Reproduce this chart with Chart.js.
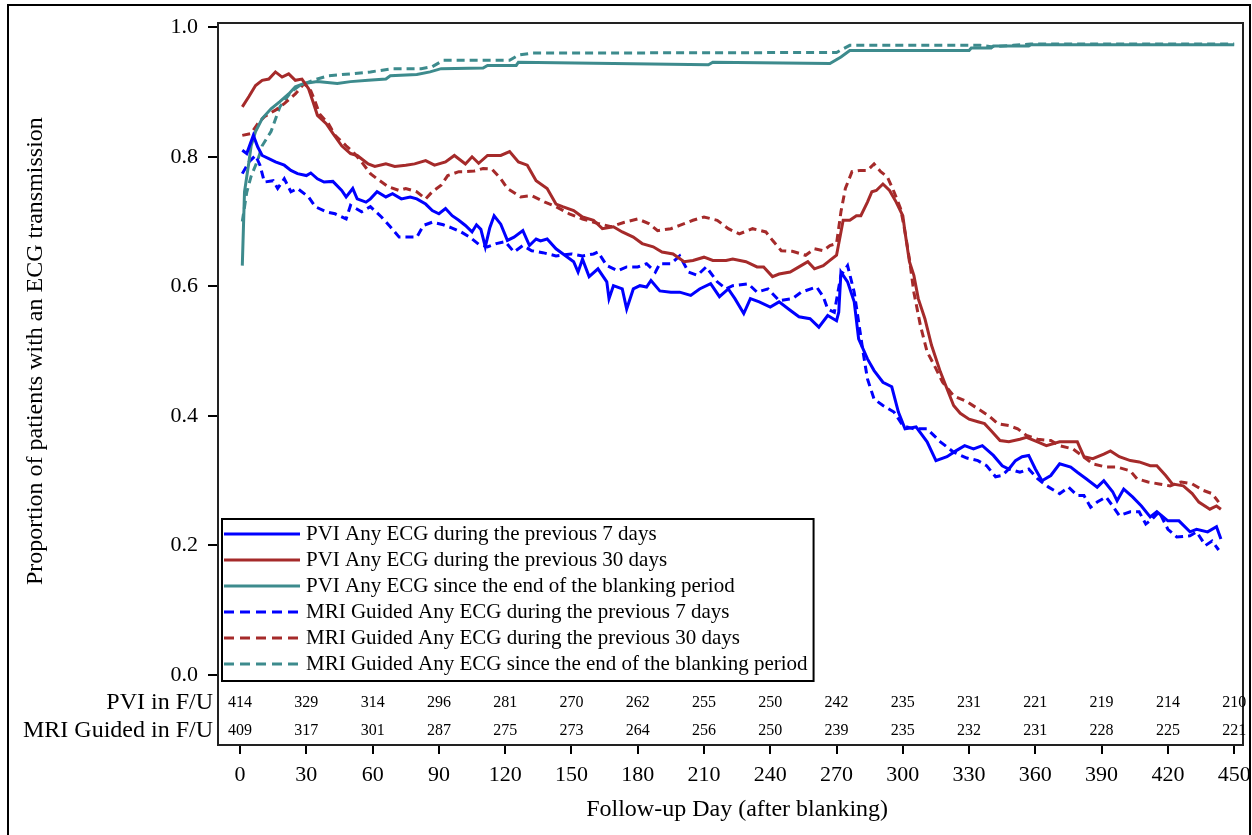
<!DOCTYPE html>
<html>
<head>
<meta charset="utf-8">
<title>ECG transmission during follow-up</title>
<script src="https://cdn.jsdelivr.net/npm/chart.js@4.4.1/dist/chart.umd.min.js"></script>
<style>
  html, body { margin: 0; padding: 0; background: #fff; }
  #wrap { position: relative; width: 1252px; height: 835px; }
</style>
</head>
<body>
<div id="wrap"><canvas id="ecgChart" width="1252" height="835"></canvas></div>
<script>
// ── axis ticks and numbers in follow-up ──
const xTicks = [0, 30, 60, 90, 120, 150, 180, 210, 240, 270, 300, 330, 360, 390, 420, 450];
const yTicks = [0, 0.2, 0.4, 0.6, 0.8, 1.0];
const pviAtRisk = [414, 329, 314, 296, 281, 270, 262, 255, 250, 242, 235, 231, 221, 219, 214, 210];
const mriAtRisk = [409, 317, 301, 287, 275, 273, 264, 256, 250, 239, 235, 232, 231, 228, 225, 221];

// ── PVI: any ECG during the previous 7 days ──
const pvi7Days = [1, 3, 6, 8, 10, 13, 16, 20, 23, 26, 30, 32, 35, 38, 42, 46, 48, 51, 53, 57, 59, 62, 66, 69, 73, 77, 80, 84, 87, 90,
  93, 96, 99, 102, 105, 107, 109, 111, 113, 115, 118, 121, 124, 128, 131, 134, 136, 139, 143, 147, 151, 153, 155, 158, 162, 166, 167, 169,
  173, 175, 178, 181, 184, 186, 190, 195, 199, 204, 208, 213, 217, 221, 224, 228, 231, 235, 240, 244, 249, 253, 258, 262, 266, 270, 271,
  272, 275, 278, 280, 284, 287, 291, 295, 298, 301, 306, 311, 315, 320, 324, 328, 332, 336, 341, 345, 348, 351, 354, 357, 360, 363, 367,
  371, 376, 379, 383, 388, 391, 395, 397, 400, 404, 408, 412, 415, 420, 425, 430, 433, 438, 442, 444];
const pvi7 = [0.810, 0.805, 0.833, 0.815, 0.802, 0.797, 0.792, 0.787, 0.779, 0.774, 0.771, 0.775, 0.766, 0.761, 0.762, 0.748, 0.738, 0.751,
  0.735, 0.730, 0.735, 0.746, 0.738, 0.743, 0.735, 0.738, 0.735, 0.727, 0.717, 0.712, 0.720, 0.709, 0.702, 0.694, 0.684, 0.695, 0.688,
  0.661, 0.690, 0.709, 0.696, 0.671, 0.676, 0.686, 0.663, 0.673, 0.670, 0.673, 0.658, 0.648, 0.638, 0.622, 0.642, 0.615, 0.627, 0.607,
  0.581, 0.601, 0.596, 0.565, 0.596, 0.601, 0.599, 0.609, 0.593, 0.591, 0.591, 0.586, 0.596, 0.604, 0.584, 0.596, 0.581, 0.558, 0.581,
  0.576, 0.568, 0.576, 0.563, 0.553, 0.550, 0.537, 0.555, 0.547, 0.560, 0.622, 0.607, 0.576, 0.519, 0.488, 0.470, 0.452, 0.445, 0.406,
  0.380, 0.383, 0.360, 0.331, 0.337, 0.346, 0.354, 0.349, 0.354, 0.339, 0.323, 0.318, 0.331, 0.337, 0.339, 0.318, 0.300, 0.308, 0.326,
  0.321, 0.313, 0.303, 0.290, 0.300, 0.283, 0.269, 0.287, 0.275, 0.261, 0.244, 0.252, 0.238, 0.238, 0.221, 0.225, 0.221, 0.229, 0.210];

// ── PVI: any ECG during the previous 30 days ──
const pvi30Days = [1, 4, 7, 10, 13, 16, 19, 22, 25, 28, 31, 33, 35, 39, 42, 46, 50, 53, 58, 61, 66, 70, 75, 79, 84, 88, 93, 97, 102, 105,
  108, 112, 118, 122, 126, 130, 134, 139, 143, 146, 151, 155, 160, 164, 169, 173, 178, 182, 187, 191, 196, 201, 205, 210, 214, 220, 223,
  229, 234, 237, 241, 244, 249, 253, 257, 260, 264, 267, 270, 272, 273, 276, 279, 281, 284, 286, 288, 291, 294, 297, 300, 301, 303, 305,
  307, 310, 313, 317, 320, 323, 326, 330, 334, 337, 340, 344, 348, 353, 356, 361, 365, 371, 379, 382, 386, 391, 394, 398, 403, 407, 412,
  415, 419, 422, 427, 431, 434, 439, 442, 444];
const pvi30 = [0.877, 0.893, 0.910, 0.918, 0.920, 0.931, 0.923, 0.928, 0.918, 0.920, 0.905, 0.885, 0.864, 0.851, 0.836, 0.817, 0.805,
  0.802, 0.789, 0.785, 0.789, 0.785, 0.787, 0.789, 0.794, 0.787, 0.792, 0.802, 0.789, 0.800, 0.790, 0.802, 0.802, 0.808, 0.792, 0.787,
  0.763, 0.751, 0.727, 0.723, 0.717, 0.707, 0.702, 0.689, 0.692, 0.684, 0.676, 0.666, 0.661, 0.653, 0.650, 0.638, 0.640, 0.645, 0.640,
  0.640, 0.642, 0.638, 0.630, 0.630, 0.615, 0.619, 0.622, 0.630, 0.638, 0.627, 0.632, 0.640, 0.648, 0.684, 0.702, 0.702, 0.709, 0.709,
  0.730, 0.746, 0.748, 0.758, 0.748, 0.730, 0.709, 0.684, 0.638, 0.617, 0.581, 0.550, 0.509, 0.468, 0.442, 0.416, 0.404, 0.395, 0.391,
  0.388, 0.377, 0.362, 0.360, 0.364, 0.367, 0.360, 0.354, 0.360, 0.360, 0.337, 0.334, 0.341, 0.346, 0.337, 0.331, 0.329, 0.323, 0.323,
  0.308, 0.295, 0.292, 0.280, 0.267, 0.256, 0.261, 0.256];

// ── PVI: any ECG since the end of the blanking period ──
const pviSinceDays = [1, 2, 4, 5, 7, 10, 14, 18, 22, 25, 29, 35, 44, 50, 58, 66, 68, 80, 86, 91, 110, 112, 125, 126, 212, 214, 267, 272,
  276, 330, 331, 340, 341, 357, 358, 450];
const pviSince = [0.632, 0.746, 0.792, 0.817, 0.839, 0.859, 0.874, 0.885, 0.897, 0.908, 0.913, 0.916, 0.913, 0.916, 0.918, 0.920, 0.925,
  0.927, 0.931, 0.936, 0.937, 0.941, 0.941, 0.946, 0.942, 0.946, 0.944, 0.954, 0.964, 0.964, 0.968, 0.968, 0.971, 0.971, 0.973, 0.973];

// ── MRI guided: any ECG during the previous 7 days ──
const mri7Days = [1, 4, 7, 9, 11, 15, 17, 20, 23, 26, 31, 34, 39, 43, 48, 50, 55, 59, 64, 68, 72, 75, 80, 83, 87, 92, 96, 100, 104, 108,
  112, 116, 120, 124, 128, 132, 137, 143, 150, 155, 160, 162, 166, 171, 175, 180, 184, 188, 190, 195, 199, 203, 207, 211, 216, 220, 223,
  230, 234, 239, 244, 250, 254, 261, 264, 266, 269, 272, 275, 278, 280, 282, 284, 287, 291, 296, 300, 305, 311, 317, 323, 329, 334, 338,
  342, 345, 348, 353, 357, 361, 366, 371, 375, 379, 382, 385, 388, 392, 395, 398, 403, 407, 410, 413, 416, 420, 424, 430, 433, 437, 440,
  443];
const mri7 = [0.774, 0.792, 0.802, 0.787, 0.761, 0.763, 0.751, 0.766, 0.746, 0.751, 0.738, 0.723, 0.715, 0.712, 0.704, 0.725, 0.715, 0.723,
  0.707, 0.692, 0.676, 0.676, 0.676, 0.694, 0.699, 0.695, 0.690, 0.684, 0.676, 0.665, 0.661, 0.666, 0.669, 0.653, 0.663, 0.655, 0.652,
  0.647, 0.650, 0.647, 0.650, 0.653, 0.632, 0.624, 0.630, 0.630, 0.635, 0.622, 0.635, 0.635, 0.647, 0.622, 0.617, 0.630, 0.607, 0.596,
  0.601, 0.604, 0.591, 0.596, 0.578, 0.581, 0.591, 0.599, 0.584, 0.565, 0.560, 0.617, 0.632, 0.591, 0.545, 0.499, 0.457, 0.426, 0.416,
  0.406, 0.385, 0.380, 0.380, 0.360, 0.344, 0.335, 0.331, 0.323, 0.306, 0.308, 0.318, 0.313, 0.318, 0.303, 0.290, 0.280, 0.290, 0.277,
  0.277, 0.259, 0.267, 0.275, 0.261, 0.246, 0.252, 0.252, 0.233, 0.241, 0.252, 0.225, 0.213, 0.215, 0.221, 0.200, 0.207, 0.193];

// ── MRI guided: any ECG during the previous 30 days ──
const mri30Days = [1, 5, 8, 11, 16, 20, 25, 29, 32, 34, 36, 40, 43, 48, 51, 55, 59, 62, 67, 72, 75, 80, 84, 87, 91, 94, 99, 102, 106, 110,
  114, 118, 121, 127, 132, 138, 143, 149, 155, 162, 168, 174, 180, 185, 189, 195, 199, 205, 210, 216, 221, 226, 232, 238, 241, 245, 250,
  256, 260, 264, 267, 270, 272, 274, 277, 281, 284, 287, 290, 293, 296, 299, 301, 303, 305, 308, 311, 315, 318, 323, 329, 334, 339, 343,
  348, 352, 356, 361, 367, 371, 377, 381, 386, 392, 397, 403, 406, 411, 416, 421, 426, 431, 436, 440, 443];
const mri30 = [0.833, 0.836, 0.851, 0.862, 0.872, 0.882, 0.897, 0.913, 0.902, 0.885, 0.866, 0.851, 0.833, 0.817, 0.808, 0.792, 0.774,
  0.766, 0.754, 0.748, 0.751, 0.746, 0.735, 0.746, 0.756, 0.771, 0.777, 0.777, 0.778, 0.782, 0.781, 0.766, 0.751, 0.738, 0.740, 0.730,
  0.723, 0.712, 0.704, 0.697, 0.692, 0.699, 0.704, 0.697, 0.686, 0.689, 0.694, 0.702, 0.707, 0.702, 0.689, 0.681, 0.689, 0.684, 0.671,
  0.655, 0.654, 0.648, 0.658, 0.655, 0.663, 0.666, 0.715, 0.751, 0.777, 0.779, 0.779, 0.789, 0.777, 0.769, 0.746, 0.720, 0.684, 0.642,
  0.591, 0.539, 0.499, 0.473, 0.452, 0.431, 0.422, 0.411, 0.400, 0.388, 0.385, 0.380, 0.370, 0.364, 0.362, 0.354, 0.349, 0.339, 0.326,
  0.321, 0.321, 0.315, 0.303, 0.298, 0.295, 0.292, 0.298, 0.295, 0.285, 0.280, 0.267];

// ── MRI guided: any ECG since the end of the blanking period ──
const mriSinceDays = [1, 3, 5, 8, 10, 14, 18, 23, 27, 33, 40, 50, 59, 69, 82, 87, 92, 122, 126, 132, 270, 276, 335, 340, 350, 358, 450];
const mriSince = [0.700, 0.745, 0.770, 0.795, 0.817, 0.839, 0.877, 0.900, 0.910, 0.918, 0.925, 0.928, 0.931, 0.936, 0.936, 0.939, 0.949,
  0.949, 0.957, 0.960, 0.961, 0.972, 0.972, 0.970, 0.972, 0.974, 0.974];

const BLUE = '#0000ff';
const RED = '#a52a2a';
const TEAL = '#3d8b8d';
const SERIF = '"Liberation Serif", "Times New Roman", serif';

const pts = (days, vals) => days.map((d, i) => ({ x: d, y: vals[i] }));

function series(label, days, vals, color, dashed) {
    return {
        label,
        data: pts(days, vals),
        borderColor: color,
        borderWidth: 3,
        borderDash: dashed ? [8, 5] : [],
        pointRadius: 0,
        tension: 0,
        fill: false,
    };
}

const datasets = [
    series('PVI Any ECG during the previous 7 days', pvi7Days, pvi7, BLUE, false),
    series('PVI Any ECG during the previous 30 days', pvi30Days, pvi30, RED, false),
    series('PVI Any ECG since the end of the blanking period', pviSinceDays, pviSince, TEAL, false),
    series('MRI Guided Any ECG during the previous 7 days', mri7Days, mri7, BLUE, true),
    series('MRI Guided Any ECG during the previous 30 days', mri30Days, mri30, RED, true),
    series('MRI Guided Any ECG since the end of the blanking period', mriSinceDays, mriSince, TEAL, true),
];

// Frame around the plot plus the thin outer border
const framePlugin = {
    id: 'frame',
    afterDraw(chart) {
        const { ctx, chartArea: a } = chart;
        ctx.save();
        ctx.strokeStyle = '#222';
        ctx.lineWidth = 2;
        ctx.strokeRect(a.left, a.top, a.right - a.left, a.bottom - a.top);
        ctx.strokeStyle = '#000';
        ctx.lineWidth = 2;
        ctx.beginPath();
        ctx.moveTo(8, 840);
        ctx.lineTo(8, 5);
        ctx.lineTo(1250, 5);
        ctx.lineTo(1250, 840);
        ctx.stroke();
        ctx.restore();
    }
};

// Numbers in follow-up under the curves, one column per x tick
const atRiskPlugin = {
    id: 'atRisk',
    afterDraw(chart) {
        const { ctx } = chart;
        const x = chart.scales.x;
        const rows = [
            { label: 'PVI in F/U', values: pviAtRisk, y: 703 },
            { label: 'MRI Guided in F/U', values: mriAtRisk, y: 731 },
        ];
        ctx.save();
        ctx.fillStyle = '#000';
        ctx.textBaseline = 'middle';
        rows.forEach(r => {
            ctx.font = '24px ' + SERIF;
            ctx.textAlign = 'right';
            ctx.fillText(r.label, 213, r.y);
            ctx.font = '16px ' + SERIF;
            ctx.textAlign = 'center';
            r.values.forEach((v, i) => ctx.fillText(String(v), x.getPixelForValue(xTicks[i]), r.y));
        });
        ctx.restore();
    }
};

// Legend box inside the plot, lower left
const legendPlugin = {
    id: 'boxLegend',
    afterDraw(chart) {
        const { ctx, chartArea: a } = chart;
        const left = a.left + 4, top = 519, rowH = 26;
        ctx.save();
        ctx.font = '21px ' + SERIF;
        const textX = left + 84;
        const maxW = Math.max(...chart.data.datasets.map(d => ctx.measureText(d.label).width));
        const w = textX + maxW + 6 - left;
        const h = rowH * chart.data.datasets.length + 6;
        ctx.fillStyle = '#fff';
        ctx.fillRect(left, top, w, h);
        ctx.strokeStyle = '#000';
        ctx.lineWidth = 2;
        ctx.strokeRect(left, top, w, h);
        chart.data.datasets.forEach((d, i) => {
            const y = top + 15 + i * rowH;
            ctx.beginPath();
            ctx.strokeStyle = d.borderColor;
            ctx.lineWidth = 3;
            ctx.setLineDash(d.borderDash.length ? [10, 6] : []);
            ctx.moveTo(left + 2, y);
            ctx.lineTo(left + 78, y);
            ctx.stroke();
            ctx.setLineDash([]);
            ctx.fillStyle = '#000';
            ctx.textBaseline = 'middle';
            ctx.textAlign = 'left';
            ctx.fillText(d.label, textX, y);
        });
        ctx.restore();
    }
};

// Axis titles (y title centred on the 0–1 range)
const titlesPlugin = {
    id: 'titles',
    afterDraw(chart) {
        const { ctx } = chart;
        const x = chart.scales.x, y = chart.scales.y;
        ctx.save();
        ctx.fillStyle = '#000';
        ctx.font = '24px ' + SERIF;
        ctx.textAlign = 'center';
        ctx.textBaseline = 'middle';
        ctx.fillText('Follow-up Day (after blanking)', x.getPixelForValue(225), 810);
        ctx.translate(36, y.getPixelForValue(0.5));
        ctx.rotate(-Math.PI / 2);
        ctx.fillText('Proportion of patients with an ECG transmission', 0, 0);
        ctx.restore();
    }
};

new Chart(document.getElementById('ecgChart'), {
    type: 'line',
    data: { datasets },
    plugins: [framePlugin, atRiskPlugin, legendPlugin, titlesPlugin],
    options: {
        responsive: false,
        animation: false,
        devicePixelRatio: 1,
        layout: { padding: { left: 0, top: 23, right: 9, bottom: 0 } },
        plugins: { legend: { display: false }, tooltip: { enabled: false } },
        scales: {
            x: {
                type: 'linear',
                min: -10,
                max: 454,
                afterFit: (s) => { s.height = 90; s.paddingLeft = 0; s.paddingRight = 0; },
                afterBuildTicks: (s) => { s.ticks = xTicks.map(v => ({ value: v })); },
                grid: { drawOnChartArea: false, drawTicks: true, tickLength: 9, color: '#000', lineWidth: 2 },
                border: { display: false },
                ticks: {
                    autoSkip: false,
                    maxRotation: 0,
                    padding: 8,
                    color: '#000',
                    font: { family: SERIF, size: 22 },
                    callback: (v) => String(v),
                },
            },
            y: {
                type: 'linear',
                min: -0.108,
                max: 1.0065,
                afterFit: (s) => { s.width = 218; s.paddingTop = 0; s.paddingBottom = 0; },
                afterBuildTicks: (s) => { s.ticks = yTicks.map(v => ({ value: v })); },
                grid: { drawOnChartArea: false, drawTicks: true, tickLength: 10, color: '#000', lineWidth: 2 },
                border: { display: false },
                ticks: {
                    padding: 10,
                    color: '#000',
                    font: { family: SERIF, size: 22 },
                    callback: (v) => v.toFixed(1),
                },
            },
        },
    },
});
</script>
</body>
</html>
